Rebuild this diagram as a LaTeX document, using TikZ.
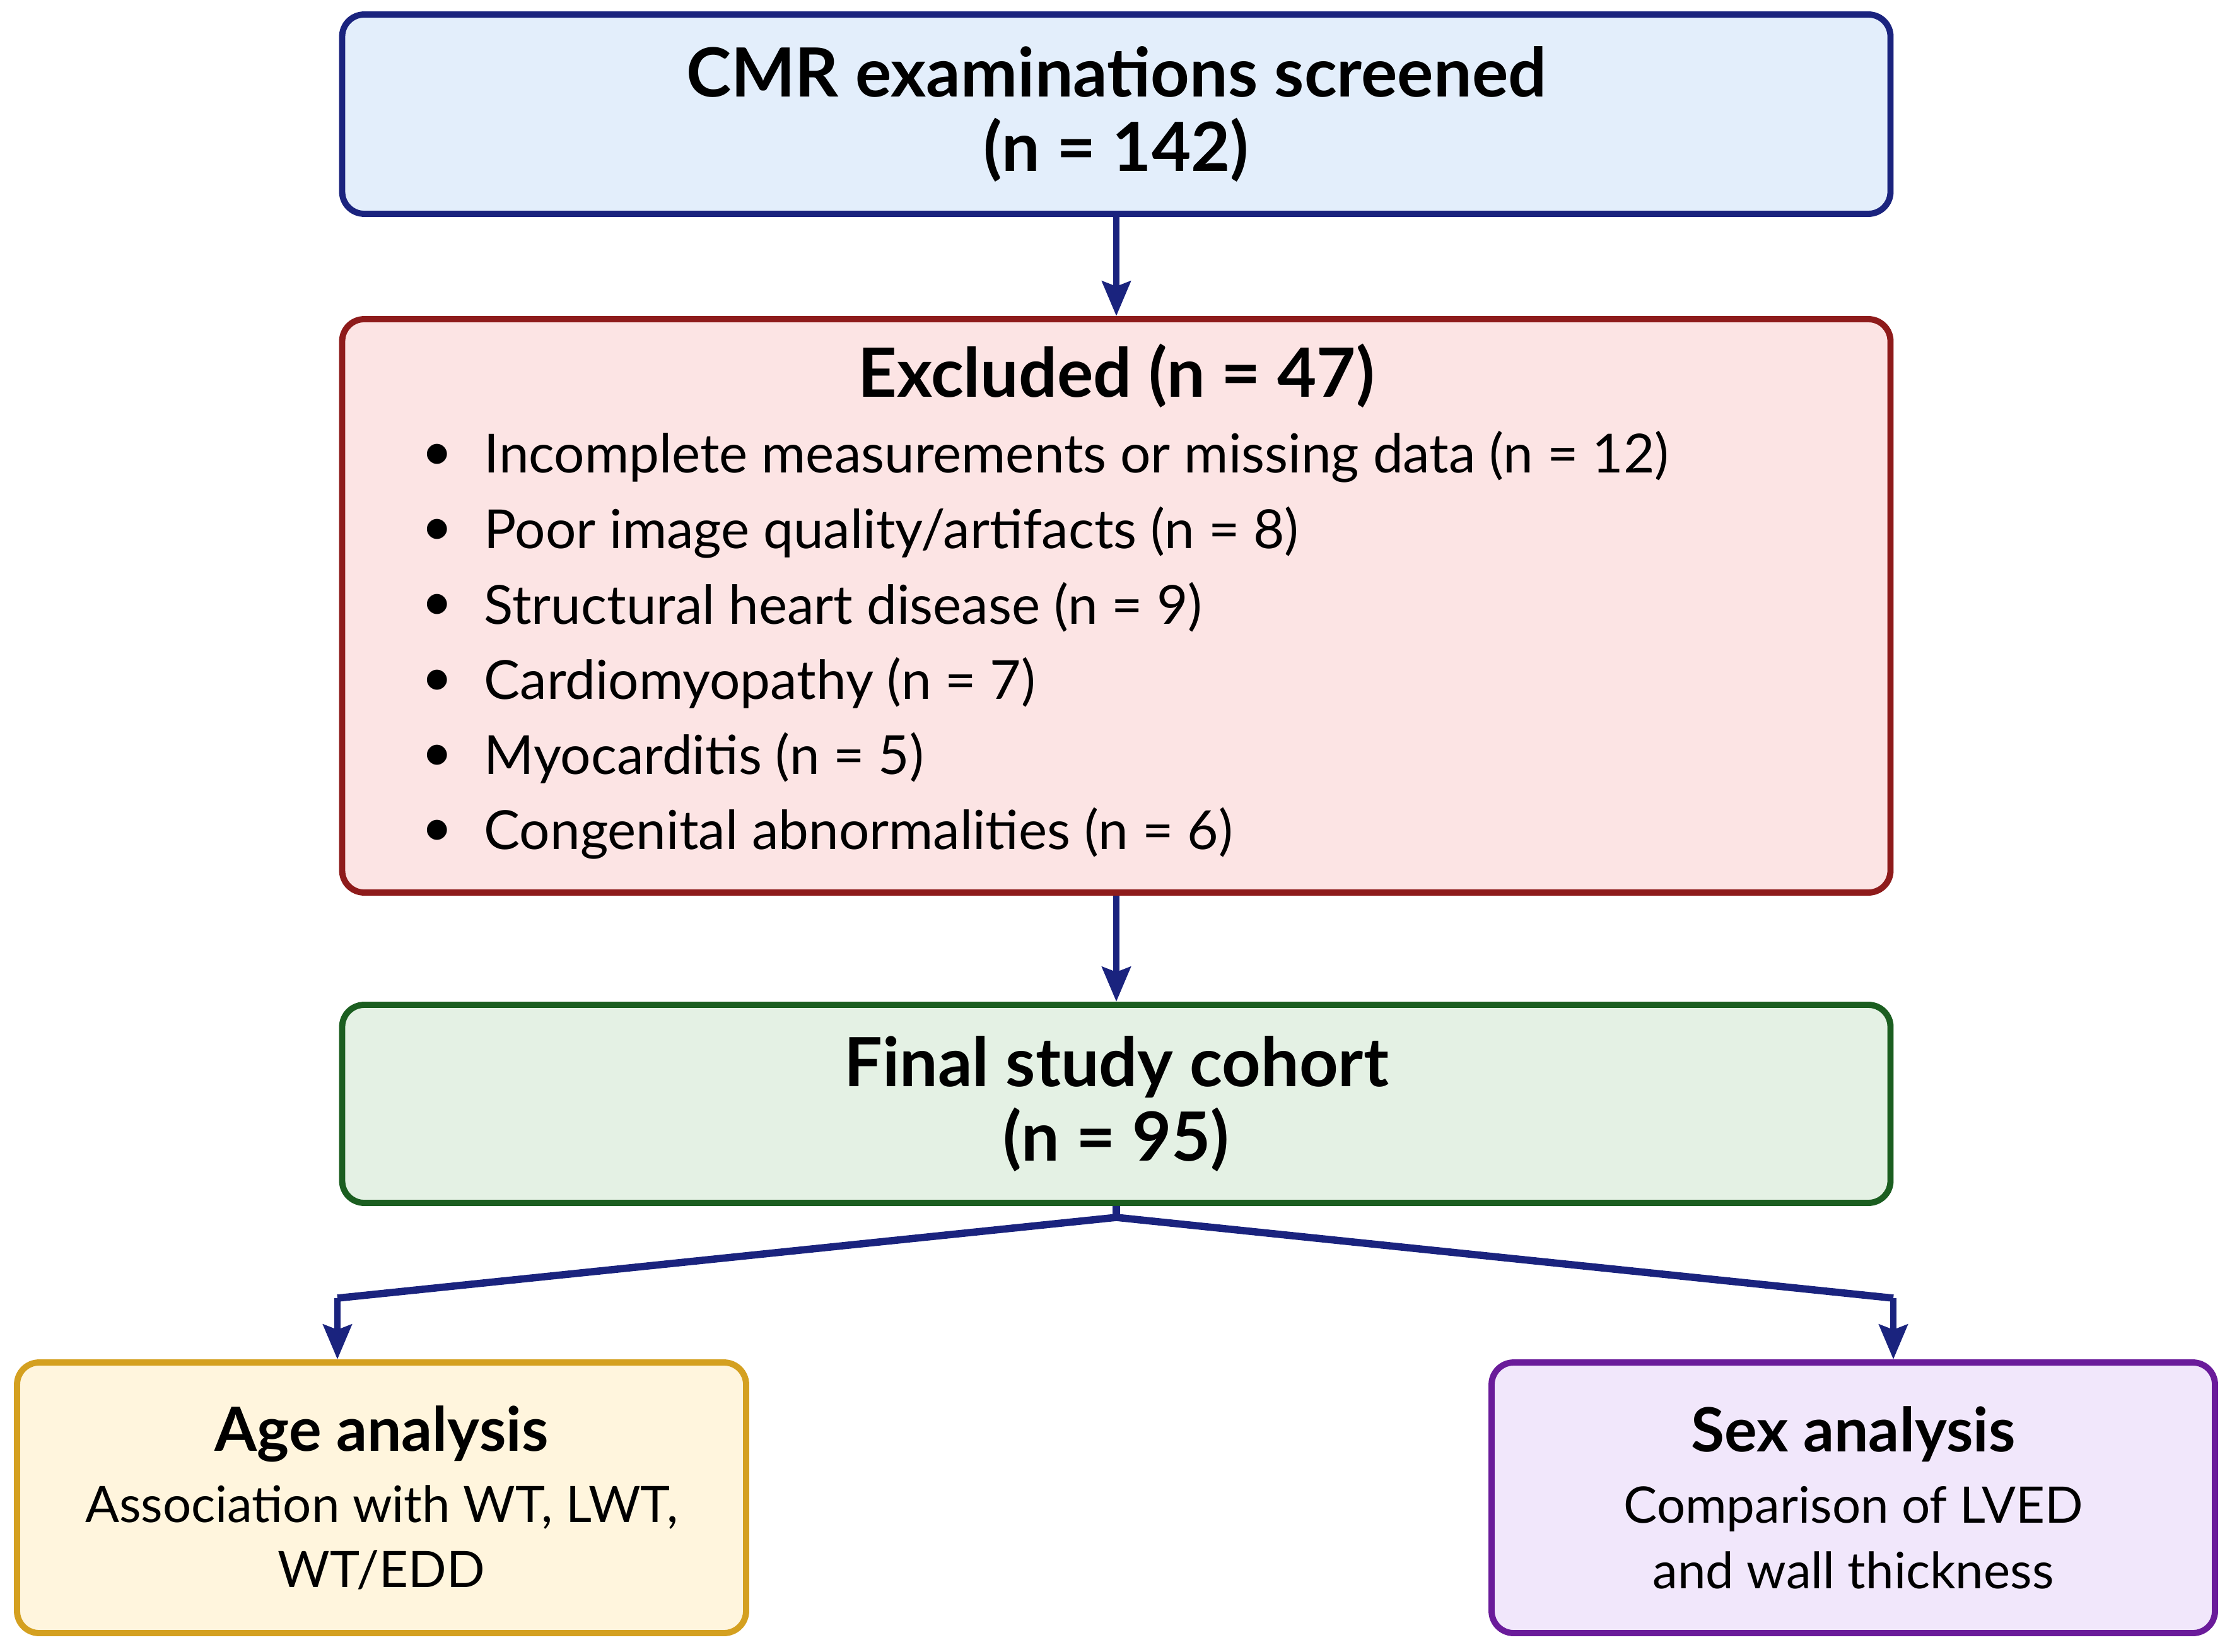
\documentclass[tikz,border=0pt]{standalone}
\usepackage{fontspec}
\setmainfont{Lato}
\usetikzlibrary{arrows.meta,positioning}

\definecolor{navyline}{HTML}{1A237E}
\definecolor{bluefill}{HTML}{E3EEFB}
\definecolor{redline}{HTML}{8E1B1B}
\definecolor{redfill}{HTML}{FCE4E4}
\definecolor{greenline}{HTML}{1B5E20}
\definecolor{greenfill}{HTML}{E4F1E4}
\definecolor{goldline}{HTML}{D4A020}
\definecolor{goldfill}{HTML}{FFF5DD}
\definecolor{purpleline}{HTML}{6A1B9A}
\definecolor{purplefill}{HTML}{F1E7FB}

\begin{document}
\begin{tikzpicture}[x=1cm, y=1cm,
    box/.style={draw, rounded corners=0.35cm, line width=2.8pt, align=center, inner sep=0pt},
    headfont/.style={font=\fontsize{30.6}{33.6}\selectfont\bfseries},
    bodyfont/.style={font=\fontsize{24.3}{30}\selectfont},
    smallfont/.style={font=\fontsize{22.7}{29.5}\selectfont},
    link/.style={draw=navyline, line width=3pt, -{Stealth[length=0.55cm, width=0.45cm, inset=0.08cm]}}]

    \useasboundingbox (0,0) rectangle (35.39,-26.19);

    % Main column of boxes
    \node[box, headfont, draw=navyline, fill=bluefill, minimum width=24.55cm, minimum height=3.16cm]
        (screened) at (17.70,-1.81) {CMR examinations screened\\(n = 142)};
    \node[box, draw=redline, fill=redfill, minimum width=24.55cm, minimum height=9.09cm]
        (excluded) at (17.70,-9.605) {};
    \node[box, headfont, draw=greenline, fill=greenfill, minimum width=24.55cm, minimum height=3.14cm]
        (final) at (17.70,-17.50) {Final study cohort\\(n = 95)};

    % Contents of the exclusion box
    \node[headfont] (exctitle) at (17.70,-5.96) {Excluded (n = 47)};
    \foreach \reason [count=\i] in {Incomplete measurements or missing data (n = 12),
        Poor image quality/artifacts (n = 8), Structural heart disease (n = 9),
        Cardiomyopathy (n = 7), Myocarditis (n = 5), Congenital abnormalities (n = 6)} {
        \node[bodyfont] (bullet\i) at (6.93,{-7.245-(\i-1)*1.193}) {\textbullet};
        \node[bodyfont, anchor=west, inner sep=0pt] (reason\i) at (7.67,{-7.245-(\i-1)*1.193}) {\reason};
    }

    % Analysis boxes
    \node[box, smallfont, draw=goldline, fill=goldfill, minimum width=11.56cm, minimum height=4.29cm]
        (age) at (6.05,-23.745) {{\bfseries\fontsize{27.5}{30}\selectfont Age analysis}\\[0.09cm]
        Association with WT, LWT,\\WT/EDD};
    \node[box, smallfont, draw=purpleline, fill=purplefill, minimum width=11.47cm, minimum height=4.29cm]
        (sex) at (29.385,-23.745) {{\bfseries\fontsize{27.5}{30}\selectfont Sex analysis}\\[0.09cm]
        Comparison of LVED\\and wall thickness};

    % Connectors
    \coordinate (split) at (17.70,-19.30);
    \coordinate (leftbend) at (5.35,-20.58);
    \coordinate (rightbend) at (30.02,-20.58);
    \draw[link] (screened) -- (excluded);
    \draw[link] (excluded) -- (final);
    \draw[navyline, line width=3.3pt, line join=round] (final.south) -- (split) -- (leftbend);
    \draw[navyline, line width=3.3pt, line join=round] (split) -- (rightbend);
    \draw[link] (leftbend) -- (leftbend |- age.north);
    \draw[link] (rightbend) -- (rightbend |- sex.north);
\end{tikzpicture}
\end{document}
